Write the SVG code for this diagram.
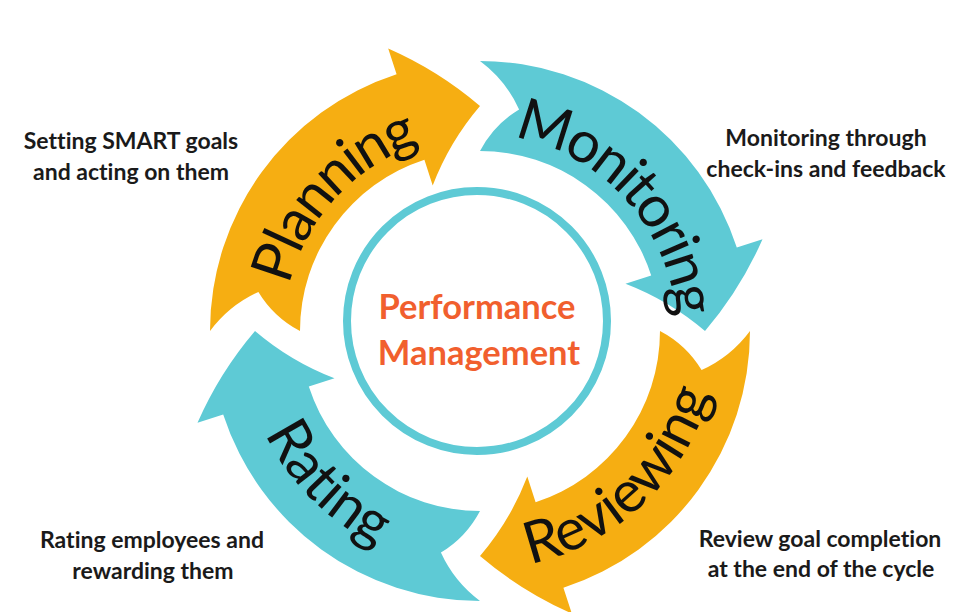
<svg xmlns="http://www.w3.org/2000/svg" width="960" height="612" viewBox="0 0 960 612">
  <style>
    .orange { fill: #F6AE12; }
    .teal { fill: #5ECAD5; }
    text { font-variant-ligatures: none; }
    .label { font-family: Lato, "Liberation Sans", sans-serif; font-size: 58px; fill: #111; }
    .tight { letter-spacing: -2.5px; }
    .desc { font-family: Lato, "Liberation Sans", sans-serif; font-size: 23px; font-weight: bold; fill: #1a1a1a; text-anchor: middle; }
    .center { font-family: Lato, "Liberation Sans", sans-serif; font-size: 34.5px; font-weight: bold; fill: #F15F2E; text-anchor: middle; }
  </style>
  <defs>
    <path id="arrowShape" d="M 0,-270 A 270 270 0 0 1 256.8,-83.4 L 282.5,-91.8 Q 260.5,-41.6 225,0 Q 189.3,-30.5 145.5,-47.3 L 171.2,-55.6 A 180 180 0 0 0 0,-180 Q 13.8,-206.3 39.1,-221.6 Q 25.8,-250.8 0,-270 Z"/>
    <path id="pPlanning" d="M 340,471 A 198 198 0 0 1 620,191"/>
    <path id="pMonitoring" d="M 340,191 A 198 198 0 0 1 620,471"/>
    <path id="pReviewing" d="M 310.3,500.7 A 240 240 0 0 0 649.7,161.3"/>
    <path id="pRating" d="M 310.3,161.3 A 240 240 0 0 0 649.7,500.7"/>
  </defs>
  <rect width="960" height="612" fill="#ffffff"/>

  <g id="connectors">
    <g id="arrow-planning">
      <use href="#arrowShape" class="orange" transform="translate(480 331) rotate(270)"/>
      <text class="label tight" transform="rotate(-2.5 480 331)"><textPath href="#pPlanning" startOffset="50%" text-anchor="middle">Planning</textPath></text>
    </g>
    <g id="arrow-monitoring">
      <use href="#arrowShape" class="teal" transform="translate(480 331)"/>
      <text class="label tight" transform="rotate(2.5 480 331)"><textPath href="#pMonitoring" startOffset="50%" text-anchor="middle">Monitoring</textPath></text>
    </g>
    <g id="arrow-reviewing">
      <use href="#arrowShape" class="orange" transform="translate(480 331) rotate(90)"/>
      <text class="label" transform="rotate(1.5 480 331)"><textPath href="#pReviewing" startOffset="50%" text-anchor="middle">Reviewing</textPath></text>
    </g>
    <g id="arrow-rating">
      <use href="#arrowShape" class="teal" transform="translate(480 331) rotate(180)"/>
      <text class="label"><textPath href="#pRating" startOffset="50%" text-anchor="middle">Rating</textPath></text>
    </g>
  </g>

  <g id="node-center">
    <circle cx="477" cy="321" r="130" fill="#ffffff" stroke="#5ECAD5" stroke-width="8"/>
    <text class="center" x="477" y="319">Performance</text>
    <text class="center" x="479" y="365">Management</text>
  </g>

  <g id="node-planning-desc">
    <text class="desc" x="131" y="149">Setting SMART goals</text>
    <text class="desc" x="131" y="180">and acting on them</text>
  </g>
  <g id="node-monitoring-desc">
    <text class="desc" x="826" y="146">Monitoring through</text>
    <text class="desc" x="826" y="177">check-ins and feedback</text>
  </g>
  <g id="node-rating-desc">
    <text class="desc" x="152" y="548">Rating employees and</text>
    <text class="desc" x="153" y="579">rewarding them</text>
  </g>
  <g id="node-reviewing-desc">
    <text class="desc" x="820" y="547">Review goal completion</text>
    <text class="desc" x="821" y="577">at the end of the cycle</text>
  </g>
</svg>
